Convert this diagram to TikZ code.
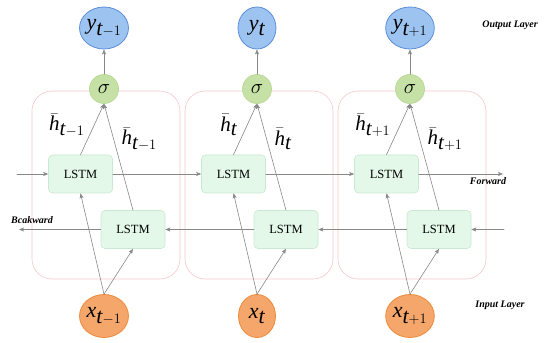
\documentclass[tikz,border=0pt]{standalone}
\usepackage{fontspec}
\setmainfont{Liberation Serif}
\usepackage{tikz}
\usetikzlibrary{arrows.meta,positioning,shapes.geometric}
\definecolor{outfill}{HTML}{9DC3F0}
\definecolor{outline}{HTML}{5A8ED8}
\definecolor{sigfill}{HTML}{C6E1A6}
\definecolor{sigline}{HTML}{B3D58F}
\definecolor{infill}{HTML}{F4A66B}
\definecolor{inline}{HTML}{EE8A3A}
\definecolor{cellfill}{HTML}{E3F8E8}
\definecolor{cellline}{HTML}{CBE9D2}
\definecolor{pinkline}{HTML}{F6C7CD}
\definecolor{wire}{HTML}{888888}
\tikzset{
    every picture/.style={line cap=round,line join=round},
    outnode/.style={ellipse,draw=outline,fill=outfill,line width=0.8pt,
      minimum width=38pt,minimum height=42pt,inner sep=0pt,
      font=\fontsize{22}{24}\selectfont},
    innode/.style={ellipse,draw=inline,fill=infill,line width=0.8pt,
      minimum width=37pt,minimum height=43pt,inner sep=0pt,
      font=\fontsize{22}{24}\selectfont},
    signode/.style={circle,draw=sigline,fill=sigfill,line width=0.6pt,
      minimum size=29pt,inner sep=0pt,font=\fontsize{21}{24}\selectfont},
    lstmcell/.style={draw=cellline,fill=cellfill,line width=0.6pt,rounded corners=4pt,
      minimum width=64pt,minimum height=38pt,inner sep=2pt,
      font=\fontsize{12.5}{14}\selectfont},
    cellbox/.style={draw=pinkline,line width=0.6pt,rounded corners=20pt,
      minimum width=148pt,minimum height=188pt,inner sep=0pt},
    hlabel/.style={inner sep=0.5pt,font=\fontsize{21}{24}\selectfont},
    layerlabel/.style={inner sep=1pt,font=\fontsize{10}{12}\selectfont\bfseries\itshape},
    flowarrow/.style={-{Stealth[length=5pt,width=4pt,inset=1.2pt]},draw=wire,
      line width=0.6pt}
}
\newcommand{\seqvar}[2]{\textit{#1}$_{\textit{t}#2}$}
\newcommand{\hvar}[1]{$\bar{\textit{h}}_{\textit{t}#1}$}

\begin{document}
\begin{tikzpicture}[x=1pt,y=1pt]
  \useasboundingbox (0,0) rectangle (550,343);
  \foreach \c/\s/\n in {104/-1/a,257//b,410/+1/c}{
    \node[cellbox] (box\n) at (\c+2,158) {};
    \node[signode] (sig\n) at (\c,254) {$\sigma$};
    \node[outnode] (y\n) at (\c,315) {\seqvar{y}{\s}};
    \node[lstmcell] (fwd\n) at (\c-23.5,169) {LSTM};
    \node[lstmcell] (bwd\n) at (\c+29,113.5) {LSTM};
    \node[innode] (x\n) at (\c,27) {\seqvar{x}{\s}};
    \draw[flowarrow] (sig\n) -- (y\n);
    \draw[flowarrow] (fwd\n.north) -- (sig\n.south);
    \draw[flowarrow] (bwd\n.north) -- (sig\n.south);
    \draw[flowarrow] (x\n.north) -- (fwd\n.south);
    \draw[flowarrow] (x\n.north) -- (bwd\n.south);
    \node[hlabel,anchor=east] (hf\n) at (\c-19,218) {\hvar{\s}};
    \node[hlabel,anchor=west] (hb\n) at (\c+17,204) {\hvar{\s}};
  }
  % forward pass
  \coordinate (fin) at (17,169);
  \coordinate (fout) at (503,169);
  \draw[flowarrow] (fin) -- (fwda);
  \draw[flowarrow] (fwda) -- (fwdb);
  \draw[flowarrow] (fwdb) -- (fwdc);
  \draw[flowarrow] (fwdc) -- (fout);
  % backward pass
  \coordinate (bin) at (504,113.5);
  \coordinate (bout) at (19,113.5);
  \draw[flowarrow] (bin) -- (bwdc);
  \draw[flowarrow] (bwdc) -- (bwdb);
  \draw[flowarrow] (bwdb) -- (bwda);
  \draw[flowarrow] (bwda) -- (bout);
  \node[layerlabel] (fwdlbl) at (488,162) {Forward};
  \node[layerlabel] (bwdlbl) at (32,123) {Bcakward};
  \node[layerlabel] (outlbl) at (510,318) {Output Layer};
  \node[layerlabel] (inlbl) at (500,38) {Input Layer};
\end{tikzpicture}
\end{document}
